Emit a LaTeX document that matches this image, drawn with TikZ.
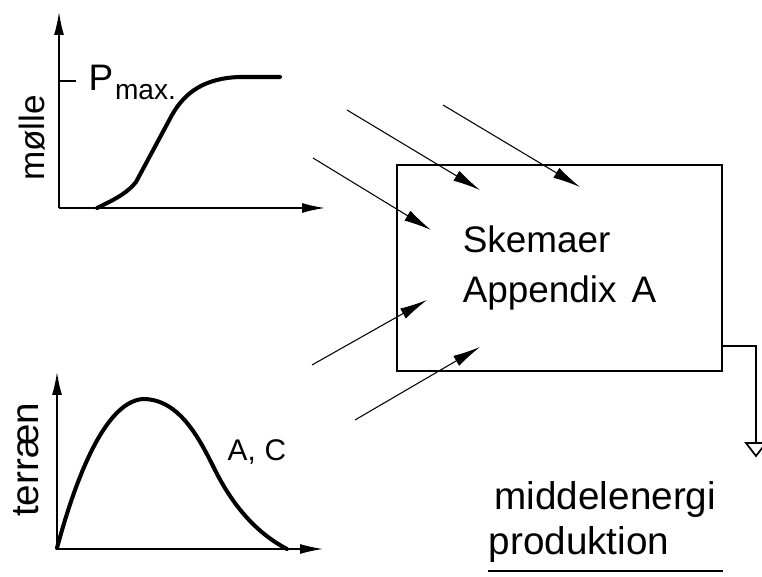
\documentclass[tikz,border=0pt]{standalone}
\usepackage{fontspec}
\setmainfont{Liberation Sans}
\usetikzlibrary{arrows.meta}

\begin{document}
\begin{tikzpicture}[x=0.02cm, y=-0.02cm, thick,
  akse/.style={-{Latex[length=4.6mm,width=2mm]}, line width=0.8pt},
  kurve/.style={line width=2.3pt, line cap=round},
  pil/.style={-{Latex[length=5.5mm,width=2.3mm]}, line width=0.6pt},
  tekst/.style={font=\fontsize{21}{28.5}\selectfont}]
  \useasboundingbox (0,0) rectangle (762,577);

  \coordinate (O1) at (59,208);
  \draw[akse] (O1) -- (59,12);
  \draw[akse] (O1) -- (325,208);
  \draw[line width=0.8pt] (59,81) -- (76,81);
  \draw[kurve] (97,208) .. controls (118,198) and (128,192) .. (136,182) -- (172,115)
    .. controls (185,92) and (205,78) .. (240,77) -- (280,77);
  \node[font=\fontsize{20}{20}\selectfont, rotate=90] (moelle) at (32,138) {mølle};
  \node[font=\fontsize{21}{21}\selectfont, anchor=base west, inner sep=0pt] (pmax) at (88,91)
    {P\hspace{1pt}{\fontsize{16}{16}\selectfont\raisebox{-5pt}{max.}}};

  \coordinate (O2) at (57,549);
  \draw[akse] (O2) -- (57,372);
  \draw[akse] (O2) -- (323,549);
  \draw[kurve] (57,548) .. controls (70,500) and (100,402) .. (143,399)
    .. controls (180,399) and (200,440) .. (215,470)
    .. controls (235,510) and (260,535) .. (287,549);
  \node[font=\fontsize{22}{22}\selectfont, rotate=90] (terraen) at (26,460) {terræn};
  \node[font=\fontsize{17}{17}\selectfont, anchor=base west, inner sep=0pt] (ac) at (227,461) {A,\hspace{5pt}C};

  \node[draw, line width=1pt, minimum width=6.5cm, minimum height=4.12cm, align=left, tekst] (skema) at (559.5,268)
    {Skemaer\\Appendix\hspace{0.3cm}A};

  \coordinate (a1) at (347,110);
  \coordinate (b1) at (480,190);
  \coordinate (a2) at (443,105);
  \coordinate (b2) at (580,187);
  \coordinate (a3) at (313,158);
  \coordinate (b3) at (431,230);
  \coordinate (a4) at (312,365);
  \coordinate (b4) at (427,300);
  \coordinate (a5) at (355,420);
  \coordinate (b5) at (480,347);
  \foreach \i in {1,...,5}
    \draw[pil] (a\i) -- (b\i);

  \coordinate (knaek) at (756,346);
  \coordinate (gnd) at (756,443);
  \draw[line width=1pt] (skema.east |- knaek) -- (knaek) -- (gnd);
  \draw[line width=1pt] (gnd) ++(-10,0) -- ++(20,0) -- ++(-10,13) -- cycle;

  \node[font=\fontsize{22}{22}\selectfont, anchor=base west, inner sep=0pt] (middel) at (494,510) {middelenergi};
  \node[font=\fontsize{22}{22}\selectfont, anchor=base west, inner sep=0pt] (prod) at (488,555) {produktion};
  \coordinate (u1) at (488,571);
  \coordinate (u2) at (723,571);
  \draw[line width=1pt] (u1) -- (u2);
\end{tikzpicture}
\end{document}
